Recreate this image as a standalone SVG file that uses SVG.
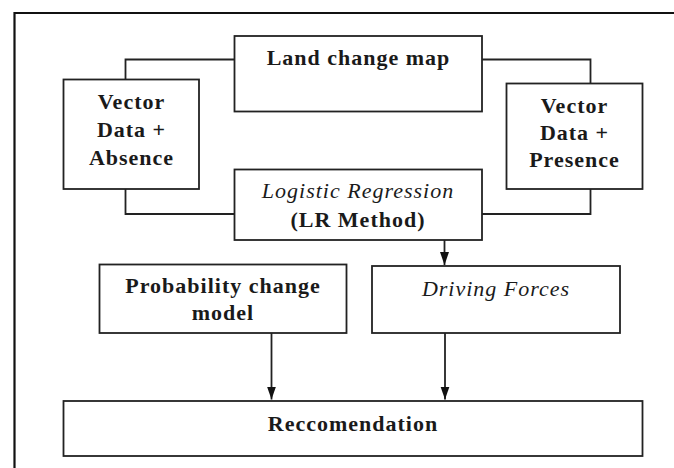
<svg xmlns="http://www.w3.org/2000/svg" width="674" height="468" viewBox="0 0 674 468">
<style>
.box{fill:#fff;stroke:#222;stroke-width:1.8}
.ln{fill:none;stroke:#222;stroke-width:1.8}
.t{font-family:"Liberation Serif","Times New Roman",serif;font-size:22px;font-weight:bold;fill:#1a1a1a;text-anchor:middle;letter-spacing:1px}
.i{font-style:italic;font-weight:normal}
</style>
<defs>
<marker id="arr" viewBox="0 -5 13 10" refX="13" refY="0" markerWidth="13" markerHeight="10" markerUnits="userSpaceOnUse" orient="auto">
<path d="M0,-4.5 L13,0 L0,4.5 z" fill="#111"/>
</marker>
</defs>
<rect width="674" height="468" fill="#fff"/>
<path d="M14.5,470 V13 H676" fill="none" stroke="#111" stroke-width="2.2"/>
<g id="connectors">
<path class="ln" d="M234,59.5 H125.5 V79.5"/>
<path class="ln" d="M125.5,189 V214 H234"/>
<path class="ln" d="M482,59.5 H590.5 V83.5"/>
<path class="ln" d="M590.5,189 V214 H482"/>
<line class="ln" x1="444.5" y1="240" x2="444.5" y2="265" marker-end="url(#arr)"/>
<line class="ln" x1="271.5" y1="333" x2="271.5" y2="399.5" marker-end="url(#arr)"/>
<line class="ln" x1="445" y1="333" x2="445" y2="399.5" marker-end="url(#arr)"/>
</g>
<g id="land">
<rect class="box" x="234.5" y="36" width="247.5" height="75.5"/>
<text class="t" x="358.5" y="65">Land change map</text>
</g>
<g id="absence">
<rect class="box" x="63.5" y="79.5" width="135.5" height="109.5"/>
<text class="t" x="131.5" y="109">Vector</text>
<text class="t" x="131.5" y="137">Data +</text>
<text class="t" x="131.5" y="165">Absence</text>
</g>
<g id="presence">
<rect class="box" x="506.5" y="83.5" width="136" height="105.5"/>
<text class="t" x="574.5" y="113">Vector</text>
<text class="t" x="574.5" y="140">Data +</text>
<text class="t" x="574.5" y="167">Presence</text>
</g>
<g id="logistic">
<rect class="box" x="234.5" y="169.5" width="247.5" height="70.5"/>
<text class="t i" x="358" y="198">Logistic Regression</text>
<text class="t" x="358" y="227">(LR Method)</text>
</g>
<g id="probability">
<rect class="box" x="99.5" y="264.5" width="247" height="68.5"/>
<text class="t" x="223" y="293">Probability change</text>
<text class="t" x="223" y="320">model</text>
</g>
<g id="driving">
<rect class="box" x="372" y="266" width="248" height="67"/>
<text class="t i" x="496" y="296">Driving Forces</text>
</g>
<g id="recommendation">
<rect class="box" x="63.5" y="401" width="579" height="55"/>
<text class="t" x="353" y="431">Reccomendation</text>
</g>
</svg>
